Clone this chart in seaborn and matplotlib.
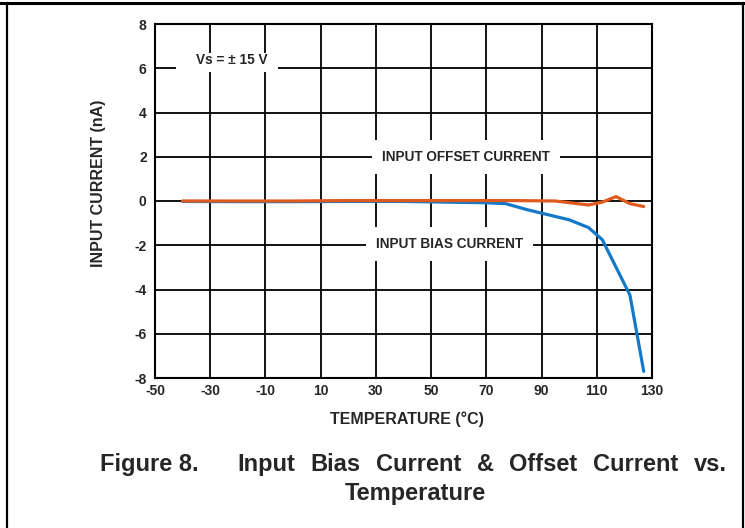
import matplotlib
matplotlib.use("Agg")
import matplotlib.pyplot as plt
import seaborn as sns
import pandas as pd
from matplotlib.lines import Line2D
from matplotlib.patches import Rectangle

# ---- data ----
bias_temp = [-40, -20, 0, 20, 40, 60, 70, 77, 85, 95, 100, 107, 112, 122, 127]
bias_current = [-0.02, -0.03, -0.03, -0.02, -0.02, -0.06, -0.08, -0.12, -0.4, -0.7, -0.85, -1.2, -1.75, -4.25, -7.7]
offset_temp = [-40, -20, 0, 20, 40, 60, 80, 95, 103, 107, 112, 117, 122, 127]
offset_current = [0.0, 0.0, 0.0, 0.02, 0.02, 0.02, 0.02, 0.0, -0.12, -0.18, -0.05, 0.2, -0.12, -0.25]
x_ticks = [-50, -30, -10, 10, 30, 50, 70, 90, 110, 130]
y_ticks = [-8, -6, -4, -2, 0, 2, 4, 6, 8]

sns.set_style("white")
plt.rcParams["font.family"] = ["Liberation Sans", "DejaVu Sans"]

W, H = 745, 528
fig = plt.figure(figsize=(W/100, H/100), dpi=100)
ax = fig.add_axes([155/W, 1-378/H, (652-155)/W, (378-24)/H])

df_b = pd.DataFrame({"t": bias_temp, "i": bias_current})
df_o = pd.DataFrame({"t": offset_temp, "i": offset_current})
sns.lineplot(data=df_b, x="t", y="i", ax=ax, color="#1479C9", lw=2.3, zorder=5)
sns.lineplot(data=df_o, x="t", y="i", ax=ax, color="#E05A1E", lw=2.3, zorder=6)

ax.set_xlim(-50, 130)
ax.set_ylim(-8, 8)
ax.set_xticks(x_ticks)
ax.set_yticks(y_ticks)
ax.set_xticklabels([str(v) for v in x_ticks], fontweight="bold", fontsize=10)
ax.set_yticklabels([str(v) for v in y_ticks], fontweight="bold", fontsize=10)
ax.tick_params(axis="x", length=0, pad=4)
ax.tick_params(axis="y", length=0, pad=6)
ax.grid(True, color="black", lw=1.3)
ax.set_axisbelow(True)
for s in ax.spines.values():
    s.set_color("black")
    s.set_linewidth(1.5)

ax.set_xlabel("TEMPERATURE (°C)", fontweight="bold", fontsize=11.5)
ax.set_ylabel("INPUT CURRENT (nA)", fontweight="bold", fontsize=11.5)
ax.xaxis.set_label_coords((407-155)/497, (378-411)/354)
ax.yaxis.set_label_coords((106-155)/497, (378-183)/354)

# label backgrounds / texts
ax.add_patch(Rectangle((-42.4, 5.83), 36.9, 0.86, facecolor="white", edgecolor="none", zorder=3))
ax.text(-22.1, 6.38, "Vs = ± 15 V", fontweight="bold", fontsize=9.8, ha="center", va="center", zorder=7)
box = dict(boxstyle="square,pad=0.75", facecolor="white", edgecolor="none")
ax.text(62.6, 2.0, "INPUT OFFSET CURRENT", fontweight="bold", fontsize=9.8, ha="center", va="center", bbox=box, zorder=7)
ax.text(56.7, -1.95, "INPUT BIAS CURRENT", fontweight="bold", fontsize=9.8, ha="center", va="center", bbox=box, zorder=7)

# caption (first line justified like the source document)
cap_size = 17
y1 = 1 - 471/H
y2 = 1 - 500/H
fig.text(100/W, y1, "Figure 8.", fontweight="bold", fontsize=cap_size, ha="left", va="baseline")
words = "Input Bias Current & Offset Current vs.".split()
objs = [fig.text(0, y1, w, fontweight="bold", fontsize=cap_size, ha="left", va="baseline") for w in words]
fig.canvas.draw()
r = fig.canvas.get_renderer()
widths = [o.get_window_extent(r).width for o in objs]
x0, x1 = 237, 727
gap = (x1 - x0 - sum(widths)) / (len(words) - 1)
x = x0
for o, w in zip(objs, widths):
    o.set_x(x / W)
    x += w + gap
fig.text(415/W, y2, "Temperature", fontweight="bold", fontsize=cap_size, ha="center", va="baseline")

fig.add_artist(Line2D([0, 1], [1-3/H, 1-3/H], color="black", lw=2.2, transform=fig.transFigure))
fig.add_artist(Line2D([7/W, 7/W], [0, 1-3/H], color="black", lw=1.6, transform=fig.transFigure))
fig.add_artist(Line2D([743/W, 743/W], [0, 1-3/H], color="black", lw=1.6, transform=fig.transFigure))

fig.savefig("out.png", dpi=100)
